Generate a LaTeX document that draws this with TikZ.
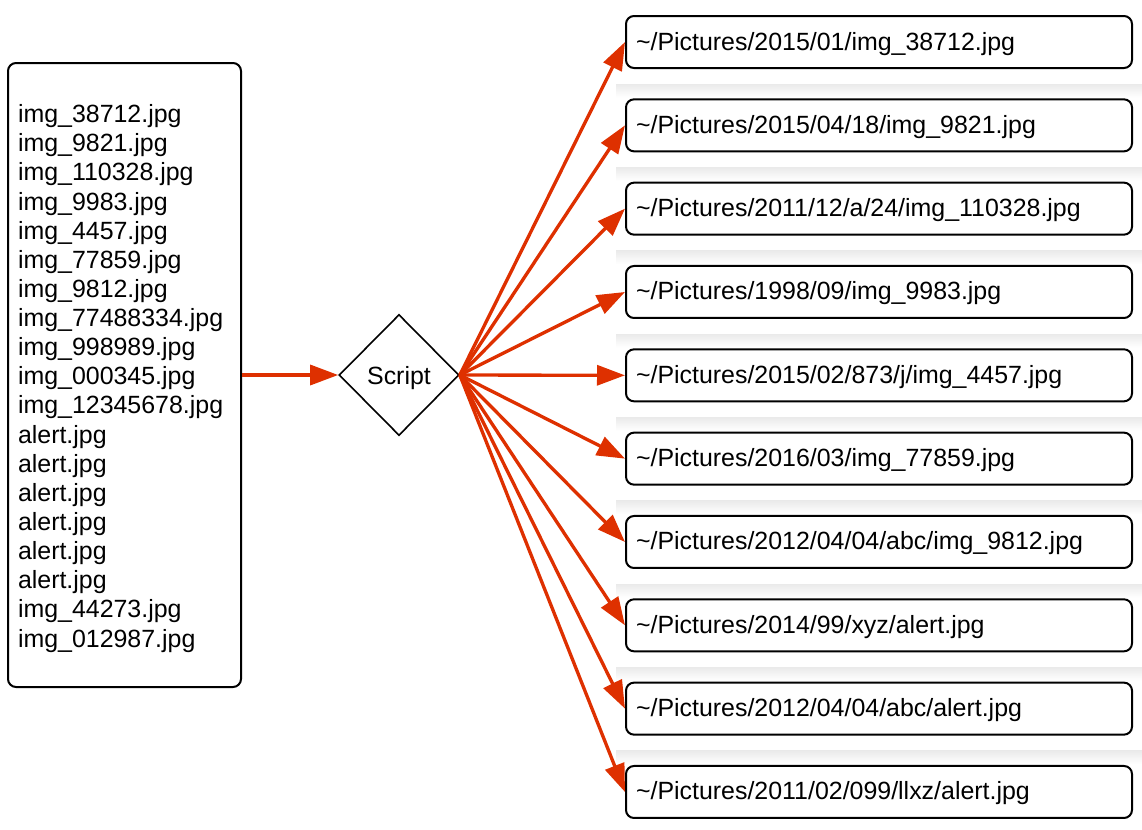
\documentclass[tikz,border=0pt]{standalone}
\usepackage{fontspec}
\setmainfont{Liberation Sans}
\usetikzlibrary{shapes.geometric,arrows.meta}
\definecolor{arrowred}{RGB}{222,48,0}

\begin{document}
\begin{tikzpicture}[x=0.75pt, y=-0.75pt,
    every node/.style={font=\fontsize{18.7}{21.85}\selectfont},
    box/.style={draw, line width=1.5pt, rounded corners=6pt, inner xsep=7.5pt, align=left},
    filelist/.style={box, text width=159.75pt, minimum height=468pt},
    pathbox/.style={box, text width=364.5pt, minimum height=39pt, text height=15pt, text depth=3pt},
    decision/.style={draw, line width=1.2pt, diamond, inner sep=0pt, minimum width=90pt, minimum height=90.75pt, text height=18pt, text depth=3.9pt},
    arrow/.style={draw=arrowred, line width=2.5pt, -{Triangle[length=21pt,width=15pt]}}]

    % parameters
    \def\gap{83.33}      % step between path boxes
    \def\firsty{42}      % centre of the top path box

    \useasboundingbox (0,0) rectangle (1142,829);

    % --- faint shadows above the path boxes ---
    \foreach \i in {1,...,9} {%
        \shade[top color=black!8, bottom color=white]
            (616,{\firsty+\gap*\i-41}) rectangle (1142,{\firsty+\gap*\i-28});
    }

    % --- input list and script ---
    \node[filelist] (files) at (124.5,375) {\raisebox{-3pt}[\height][\depth]{\begin{tabular}{@{}l@{}}
        img\_38712.jpg\\img\_9821.jpg\\img\_110328.jpg\\img\_9983.jpg\\img\_4457.jpg\\
        img\_77859.jpg\\img\_9812.jpg\\img\_77488334.jpg\\img\_998989.jpg\\img\_000345.jpg\\
        img\_12345678.jpg\\alert.jpg\\alert.jpg\\alert.jpg\\alert.jpg\\alert.jpg\\alert.jpg\\
        img\_44273.jpg\\img\_012987.jpg\end{tabular}}};
    \node[decision] (script) at (399,375) {Script};

    % --- target paths, top to bottom ---
    \foreach \txt [count=\i from 0] in {%
        {2015/01/img\_38712.jpg},
        {2015/04/18/img\_9821.jpg},
        {2011/12/a/24/img\_110328.jpg},
        {1998/09/img\_9983.jpg},
        {2015/02/873/j/img\_4457.jpg},
        {2016/03/img\_77859.jpg},
        {2012/04/04/abc/img\_9812.jpg},
        {2014/99/xyz/alert.jpg},
        {2012/04/04/abc/alert.jpg},
        {2011/02/099/llxz/alert.jpg}} {%
        \node[pathbox] (p\i) at (879,{\firsty+\gap*\i}) {\textasciitilde/Pictures/\txt};%
    }

    \draw[arrow] (files) -- (script);
    \foreach \i in {0,...,9} {%
        \draw[arrow] (script.east) -- (p\i.west);
    }

\end{tikzpicture}
\end{document}
